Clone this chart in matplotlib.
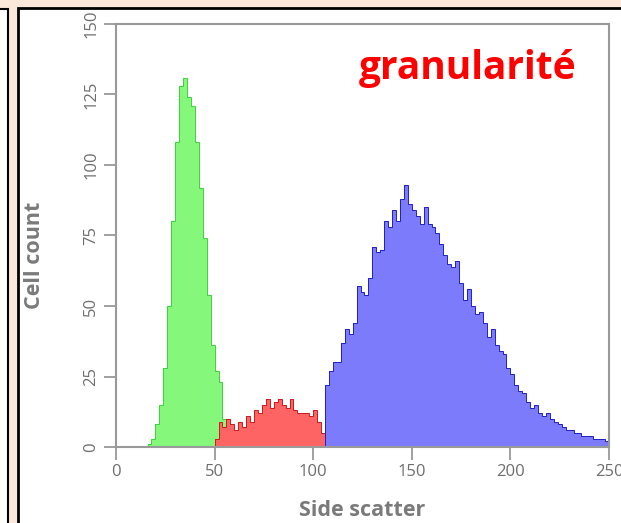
import numpy as np
import matplotlib
matplotlib.use('Agg')
from matplotlib import pyplot as plt
from matplotlib.patches import Rectangle

# histogram data, 2-unit bins on the side scatter axis
green_start = 14
green_counts = [0.5, 1, 3, 8, 15, 28, 50, 80, 108, 128, 131, 124, 121, 108,
                92, 74, 54, 36, 27, 23, 10, 2]

red_start = 50
red_counts = [3, 9, 7, 10, 8, 6, 9, 7, 11, 9, 13, 12, 15, 17, 14, 16, 17, 15,
              14, 17, 13, 12, 12, 12, 11, 13, 9, 5]

blue_start = 106
blue_counts = [22, 27, 30, 30, 37, 42, 40, 44, 57, 55, 54, 60, 71, 69, 70, 80,
               78, 84, 80, 88, 93, 86, 84, 82, 79, 85, 79, 78, 76, 72, 68, 65,
               64, 66, 58, 52, 56, 50, 47, 48, 44, 39, 42, 36, 34, 33, 28, 26,
               22, 20, 19, 16, 14, 15, 12, 11, 12, 10, 9, 8, 7, 6, 6, 5, 5, 4,
               4, 4, 3, 3, 3, 2]

x_ticks = [0, 50, 100, 150, 200, 250]
y_ticks = [0, 25, 50, 75, 100, 125, 150]

bin_w = 2
gray = '#999999'
text_gray = '#6e6e6e'

plt.rcParams['font.family'] = ['Open Sans', 'DejaVu Sans']

fig = plt.figure(figsize=(6.21, 5.23), dpi=100)
fig.patch.set_facecolor('#fbe8da')

# panel frames (behind the axes)
W, H = 621.0, 523.0
fig.patches.append(Rectangle((-0.05, -0.01), 8 / W + 0.05, (H - 9) / H + 0.01,
                             transform=fig.transFigure, facecolor='white',
                             edgecolor='black', linewidth=1.5, zorder=-2))
fig.patches.append(Rectangle((18 / W, -0.01), 1.0, (H - 8) / H + 0.01,
                             transform=fig.transFigure, facecolor='white',
                             edgecolor='black', linewidth=2, zorder=-2))

ax = fig.add_axes([116 / W, 1 - 447 / H, 493 / W, 423 / H])
ax.set_facecolor('none')

series = [
    (green_start, green_counts, '#85f77b', '#3ad43a'),
    (red_start, red_counts, '#ff6464', '#cc1a1a'),
    (blue_start, blue_counts, '#7b7bfb', '#2020c8'),
]
for start, counts, face, edge in series:
    edges = start + bin_w * np.arange(len(counts) + 1)
    ax.stairs(counts, edges, fill=True, facecolor=face, linewidth=0)
    ax.stairs(counts, edges, color=edge, linewidth=0.7)

ax.set_xlim(0, 250)
ax.set_ylim(0, 150)
ax.set_xticks(x_ticks)
ax.set_yticks(y_ticks)
for s in ax.spines.values():
    s.set_color(gray)
    s.set_linewidth(1.5)
ax.tick_params(axis='both', colors=gray, length=9, width=1.3, labelsize=12,
               labelcolor=text_gray)
ax.tick_params(axis='y', pad=3)
plt.setp(ax.get_yticklabels(), rotation=90, va='center')

ax.set_xlabel('Side scatter', fontsize=15.5, fontweight='bold', color='#7a7a7a',
              labelpad=14)
fig.text(35 / W, 1 - 255 / H, 'Cell count', rotation=90, fontsize=15.5,
         fontweight='bold', color='#7a7a7a', ha='center', va='center')

fig.text(468 / W, 1 - 68 / H, 'granularité', fontsize=28, fontweight='bold',
         color='#ff0000', ha='center', va='center')

fig.savefig('out.png', dpi=100, facecolor=fig.get_facecolor())
